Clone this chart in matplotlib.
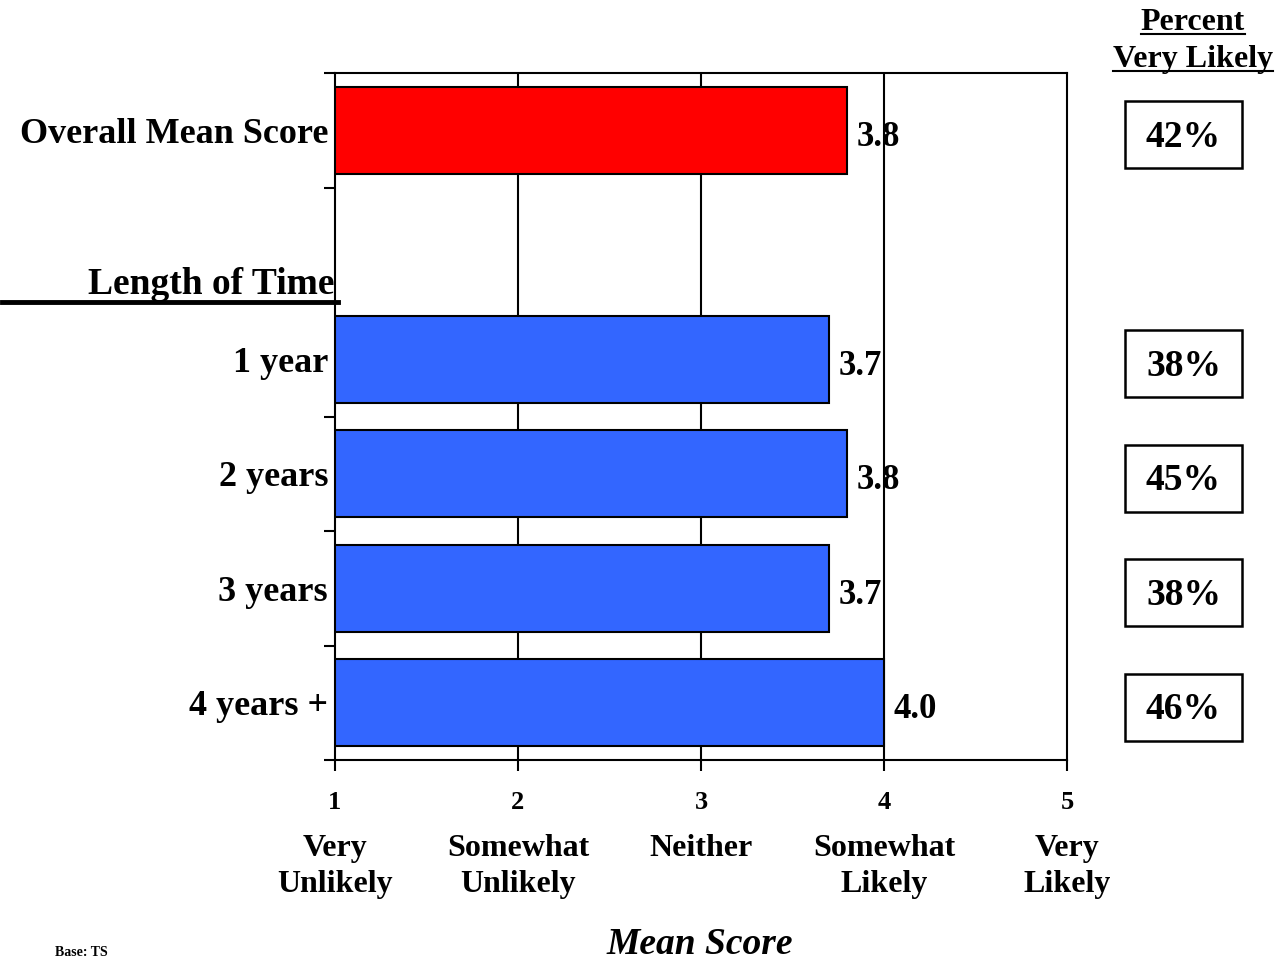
"""Mean likelihood score by length of time, with percent very likely."""

import matplotlib

matplotlib.use("Agg")

import matplotlib.pyplot as plt
from matplotlib.lines import Line2D
from matplotlib.patches import Rectangle
from matplotlib.transforms import blended_transform_factory

# Data
categories = ["Overall Mean Score", "1 year", "2 years", "3 years", "4 years +"]
scores = [3.8, 3.7, 3.8, 3.7, 4.0]
pct_very_likely = [42, 38, 45, 38, 46]
bar_colors = ["#FF0000", "#3366FF", "#3366FF", "#3366FF", "#3366FF"]
scale_values = [1, 2, 3, 4, 5]
scale_labels = ["Very\nUnlikely", "Somewhat\nUnlikely", "Neither", "Somewhat\nLikely", "Very\nLikely"]
group_header = "Length of Time"

plt.rcParams["font.family"] = ["Liberation Serif", "DejaVu Serif"]
plt.rcParams["font.weight"] = "bold"

fig = plt.figure(figsize=(12.76, 9.6), dpi=100)
ax = fig.add_axes([335 / 1276, 1 - 760 / 960, (1067 - 335) / 1276, (760 - 73) / 960])

# slot 1 is left empty for the group header
slots = [0, 2, 3, 4, 5]
n_slots = 6

ax.barh(slots, [s - 1 for s in scores], left=1, height=0.76,
        color=bar_colors, edgecolor="black", linewidth=1.5, zorder=3)

for y, s in zip(slots, scores):
    ax.text(s + 0.05, y + 0.06, f"{s:.1f}", ha="left", va="center",
            fontsize=25, fontweight="bold", zorder=4)

ax.set_xlim(1, 5)
ax.set_ylim(n_slots - 0.5, -0.5)

for v in scale_values[1:-1]:
    ax.axvline(v, color="black", linewidth=1.5, zorder=1)

for side in ["left", "bottom", "top", "right"]:
    ax.spines[side].set_linewidth(1.5)

ax.set_xticks(scale_values)
ax.set_xticklabels([str(v) for v in scale_values], fontsize=19, fontweight="bold")
ax.tick_params(axis="x", direction="out", length=8, width=1.5, pad=14)

ax.set_yticks(slots)
ax.set_yticklabels(categories, fontsize=26, fontweight="bold")
ax.set_yticks([i - 0.5 for i in range(n_slots + 1)], minor=True)
ax.tick_params(axis="y", which="major", length=0, pad=5)
ax.tick_params(axis="y", which="minor", direction="out", length=8, width=1.5)

# verbal scale labels under tick numbers
xt = blended_transform_factory(ax.transData, ax.transAxes)
for v, lab in zip(scale_values, scale_labels):
    ax.text(v, -0.108, lab, transform=xt, ha="center", va="top",
            fontsize=23, fontweight="bold", linespacing=1.32)

fig.text(700 / 1276, 1 - 944 / 960, "Mean Score", ha="center", va="center",
         fontsize=27, fontweight="bold", style="italic")

# group header with long underline
yt = blended_transform_factory(ax.transAxes, ax.transData)
ax.text(0, 1.5, group_header, transform=yt, ha="right", va="bottom",
        fontsize=27, fontweight="bold")
fig.add_artist(Line2D([2 / 1276, 338 / 1276], [1 - 302 / 960, 1 - 302 / 960],
                      color="black", linewidth=3.5))

# percent very likely boxes
bt = blended_transform_factory(fig.transFigure, ax.transData)
box_w = 117 / 1276
box_h = 0.585
box_x = 1125 / 1276
for y, p in zip(slots, pct_very_likely):
    ax.add_patch(Rectangle((box_x, y - box_h / 2 + 0.04), box_w, box_h, transform=bt,
                           facecolor="white", edgecolor="black", linewidth=1.8,
                           clip_on=False))
    ax.text(box_x + box_w / 2, y + 0.06, f"{p}%", transform=bt, ha="center",
            va="center", fontsize=27, fontweight="bold")

# underlined header for the boxes
fig.canvas.draw()
renderer = fig.canvas.get_renderer()
for txt, yc in [("Percent", 22), ("Very Likely", 59)]:
    t = fig.text(1193 / 1276, 1 - yc / 960, txt, ha="center", va="center",
                 fontsize=23, fontweight="bold")
    bb = t.get_window_extent(renderer).transformed(fig.transFigure.inverted())
    yl = bb.y0 + 0.003
    fig.add_artist(Line2D([bb.x0, bb.x1], [yl, yl], color="black", linewidth=1.5))

fig.text(55 / 1276, 1 / 960, "Base: TS", ha="left", va="bottom", fontsize=10)

fig.savefig("out.png", dpi=100)
